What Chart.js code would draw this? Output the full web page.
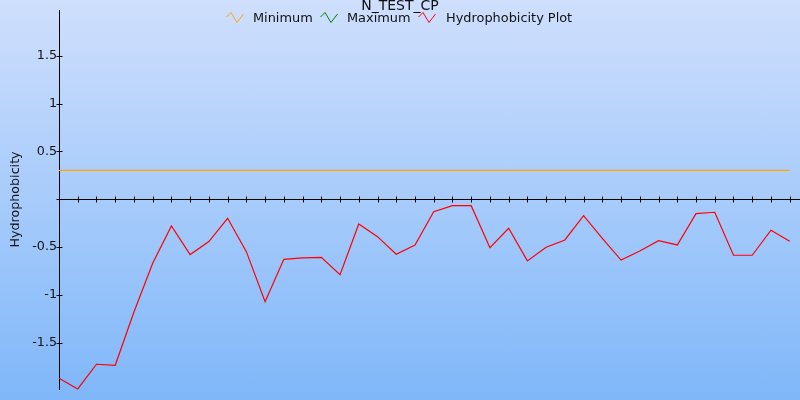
<!DOCTYPE html>
<html>
<head>
<meta charset="utf-8">
<script src="https://cdn.jsdelivr.net/npm/chart.js@4/dist/chart.umd.min.js"></script>
<style>
  html, body { margin: 0; padding: 0; }
  body {
    width: 800px; height: 400px; overflow: hidden; position: relative;
    background: linear-gradient(#cfdffd, #7fb7f9);
    font-family: "DejaVu Sans", sans-serif; color: #111;
  }
  #chart { position: absolute; left: 0; top: 0; }
  #title {
    position: absolute; left: 0; width: 800px; top: -2px;
    text-align: center; font-size: 14px; line-height: 14px;
  }
  #legend { position: absolute; left: 0; top: 0; font-size: 12.9px; line-height: 12.9px; white-space: nowrap; }
  #legend svg, #legend span { position: absolute; }
  #legend svg { top: 12px; }
  #legend span { top: 12px; }
</style>
</head>
<body>
<canvas id="chart" width="800" height="400"></canvas>
<div id="title">N_TEST_CP</div>
<div id="legend"></div>
<script>
// residue positions along the sequence (x axis)
const positions = [0, 1, 2, 3, 4, 5, 6, 7, 8, 9, 10, 11, 12, 13, 14, 15, 16, 17, 18, 19,
  20, 21, 22, 23, 24, 25, 26, 27, 28, 29, 30, 31, 32, 33, 34, 35, 36, 37, 38, 39];

// hydrophobicity value at each position
const hydrophobicity = [-1.872, -1.984, -1.726, -1.737, -1.18, -0.669, -0.279, -0.579, -0.443, -0.199,
  -0.548, -1.071, -0.628, -0.614, -0.607, -0.79, -0.258, -0.391, -0.575, -0.478,
  -0.13, -0.067, -0.067, -0.506, -0.304, -0.645, -0.502, -0.426, -0.171, -0.408,
  -0.636, -0.541, -0.433, -0.478, -0.15, -0.136, -0.586, -0.586, -0.324, -0.439];

const minimumValue = 0.303;
const maximumValues = []; // maximum line is not visible in the plot

const seriesNames = ["Minimum", "Maximum", "Hydrophobicity Plot"];
const seriesColors = ["#ffa500", "#008000", "#ff0000"];

const yTicks = [-1.5, -1, -0.5, 0, 0.5, 1, 1.5];
const yTickLabels = ["-1.5", "-1", "-0.5", "", "0.5", "1", "1.5"];

const Y_MIN = -1.985;
const Y_MAX = 1.98;
const X_MAX = 39.55;

// legend: zigzag icon + label, sits on top of the plot
const legendIconX = [226, 320, 418];
const legendTextX = [253, 347, 446];
const legend = document.getElementById("legend");
seriesNames.forEach((name, i) => {
  legend.insertAdjacentHTML("beforeend",
    `<svg style="left:${legendIconX[i]}px" width="18" height="11" viewBox="0 0 18 11"><polyline points="0.5,5 5,0.5 11,10.5 17.5,2" fill="none" stroke="${seriesColors[i]}" stroke-width="1"/></svg>` +
    `<span style="left:${legendTextX[i]}px">${name}</span>`);
});

// small tick marks crossing both axis lines
const crossTicks = {
  id: "crossTicks",
  afterDraw(chart) {
    const { ctx, scales: { x, y } } = chart;
    const y0 = Math.round(y.getPixelForValue(0)) + 0.5;
    const x0 = Math.round(chart.chartArea.left) + 0.5;
    ctx.save();
    ctx.strokeStyle = "#000";
    ctx.lineWidth = 1;
    ctx.beginPath();
    for (const p of positions.slice(1)) {
      const px = Math.round(x.getPixelForValue(p)) + 0.5;
      ctx.moveTo(px, y0 - 3);
      ctx.lineTo(px, y0 + 3);
    }
    for (const v of yTicks) {
      const py = Math.round(y.getPixelForValue(v)) + 0.5;
      ctx.moveTo(x0 - 3, py);
      ctx.lineTo(x0 + 3, py);
    }
    ctx.stroke();
    ctx.restore();
  },
};

new Chart(document.getElementById("chart"), {
  type: "line",
  data: {
    datasets: [
      {
        label: seriesNames[0],
        data: [
          { x: positions[0], y: minimumValue },
          { x: positions[positions.length - 1], y: minimumValue },
        ],
        borderColor: seriesColors[0],
        borderWidth: 1.2,
        pointRadius: 0,
      },
      {
        label: seriesNames[1],
        data: maximumValues,
        borderColor: seriesColors[1],
        borderWidth: 1.2,
        pointRadius: 0,
      },
      {
        label: seriesNames[2],
        data: positions.map((p, i) => ({ x: p, y: hydrophobicity[i] })),
        borderColor: seriesColors[2],
        borderWidth: 1.2,
        pointRadius: 0,
        tension: 0,
      },
    ],
  },
  options: {
    responsive: false,
    animation: false,
    clip: false,
    layout: { padding: { top: 10, bottom: 11, left: 0, right: 0 } },
    plugins: {
      legend: { display: false },
      title: { display: false },
      tooltip: { enabled: false },
    },
    scales: {
      x: {
        type: "linear",
        min: 0,
        max: X_MAX,
        position: { y: 0 },
        grid: { display: false, drawTicks: false },
        border: { display: true, color: "#000", width: 1 },
        ticks: { display: false },
      },
      y: {
        type: "linear",
        position: "left",
        min: Y_MIN,
        max: Y_MAX,
        grid: { display: false, drawTicks: false },
        border: { display: true, color: "#000", width: 1 },
        afterBuildTicks: (s) => { s.ticks = yTicks.map((v) => ({ value: v })); },
        afterFit: (s) => { s.width = 59; },
        ticks: {
          padding: 2,
          color: "#111",
          font: { family: "DejaVu Sans", size: 12.7 },
          callback: (v) => yTickLabels[yTicks.indexOf(v)],
        },
        title: {
          display: true,
          text: "Hydrophobicity",
          color: "#111",
          font: { family: "DejaVu Sans", size: 12.7 },
          padding: { top: 8, bottom: 0 },
        },
      },
    },
  },
  plugins: [crossTicks],
});
</script>
</body>
</html>
